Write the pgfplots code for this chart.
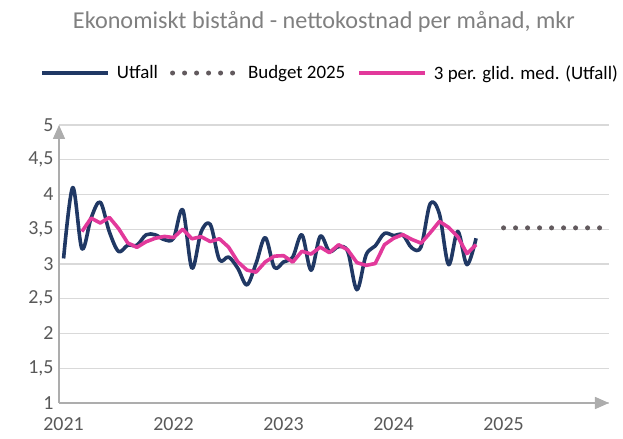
\documentclass[border=0pt]{standalone}
\usepackage{fontspec}
\setmainfont{Carlito}
\usepackage{pgfplots}
\pgfplotsset{compat=1.18}
\usetikzlibrary{arrows.meta}
\definecolor{navy}{HTML}{203864}
\definecolor{pinkma}{HTML}{E2399B}
\definecolor{dotgray}{HTML}{625A5E}
\definecolor{gridgray}{HTML}{D9D9D9}
\definecolor{axisgray}{HTML}{ADADAD}
\definecolor{ticktext}{HTML}{595959}
\definecolor{titletext}{HTML}{808080}
\begin{document}
\begin{tikzpicture}
\useasboundingbox (0,0) rectangle (623bp,439bp);
\node[font=\fontsize{24.3}{28}\selectfont, text=titletext] at (324bp,417bp) {Ekonomiskt bistånd - nettokostnad per månad, mkr};
\begin{axis}[
  at={(59bp,36bp)}, anchor=south west,
  scale only axis, width=550bp, height=278bp,
  xmin=-0.5, xmax=59.5, ymin=1, ymax=5,
  axis lines=left,
  axis line style={draw=axisgray, line width=1.6bp},
  x axis line style={-{Triangle[length=14bp,width=12bp]}},
  y axis line style={-{Triangle[length=14bp,width=12bp]}},
  major tick length=0pt,
  ymajorgrids, grid style={draw=gridgray, line width=1.4bp},
  xtick={0,12,24,36,48}, xticklabels={2021,2022,2023,2024,2025},
  ytick={1,1.5,2,2.5,3,3.5,4,4.5,5},
  /pgf/number format/assume math mode=true,
  /pgf/number format/use comma,
  /pgf/number format/fixed,
  /pgf/number format/precision=1,
  ticklabel style={font=\fontsize{20}{24}\selectfont, text=ticktext},
  yticklabel style={xshift=-2bp},
  xticklabel style={yshift=-13bp, inner sep=1bp},
  legend style={at={(0.493,1.187)}, anchor=center, draw=none, fill=none,
    font=\fontsize{19}{23}\selectfont, text=black,
    /tikz/every odd column/.append style={column sep=5bp},
    /tikz/every even column/.append style={column sep=10bp}},
  legend columns=3,
  legend cell align=left,
  legend image code/.code={\draw[#1] (0bp,0bp) -- (66bp,0bp);},
]
\addplot[navy, line width=3.6bp, smooth, tension=0.55, line join=round] coordinates {
(0,3.08)(1,4.10)(2,3.22)(3,3.66)(4,3.89)(5,3.46)(6,3.18)(7,3.27)(8,3.27)(9,3.42)
(10,3.42)(11,3.35)(12,3.37)(13,3.78)(14,2.94)(15,3.46)(16,3.57)(17,3.06)(18,3.10)(19,2.94)
(20,2.70)(21,3.01)(22,3.38)(23,2.95)(24,3.03)(25,3.10)(26,3.42)(27,2.91)(28,3.40)(29,3.18)
(30,3.25)(31,3.18)(32,2.63)(33,3.13)(34,3.26)(35,3.44)(36,3.41)(37,3.42)(38,3.23)(39,3.25)
(40,3.87)(41,3.72)(42,2.99)(43,3.47)(44,2.99)(45,3.37)
};
\addlegendentry{Utfall}
\addplot[dotgray, line width=5bp, line cap=round, dash pattern=on 0bp off 12bp] coordinates {
(48,3.52)(49,3.52)(50,3.52)(51,3.52)(52,3.52)(53,3.52)(54,3.52)(55,3.52)(56,3.52)(57,3.52)(58,3.52)(59,3.52)
};
\addlegendentry{Budget 2025}
\addplot[pinkma, line width=3.6bp, line join=round] coordinates {
(2,3.467)(3,3.660)(4,3.590)(5,3.670)(6,3.510)(7,3.303)(8,3.240)(9,3.320)
(10,3.370)(11,3.397)(12,3.380)(13,3.500)(14,3.363)(15,3.393)(16,3.323)(17,3.363)(18,3.243)(19,3.033)
(20,2.913)(21,2.883)(22,3.030)(23,3.113)(24,3.120)(25,3.027)(26,3.183)(27,3.143)(28,3.243)(29,3.163)
(30,3.277)(31,3.203)(32,3.020)(33,2.980)(34,3.007)(35,3.277)(36,3.370)(37,3.423)(38,3.353)(39,3.300)
(40,3.450)(41,3.613)(42,3.527)(43,3.393)(44,3.150)(45,3.277)
};
\addlegendentry{3 per. glid. med. (Utfall)}
\end{axis}
\end{tikzpicture}
\end{document}
